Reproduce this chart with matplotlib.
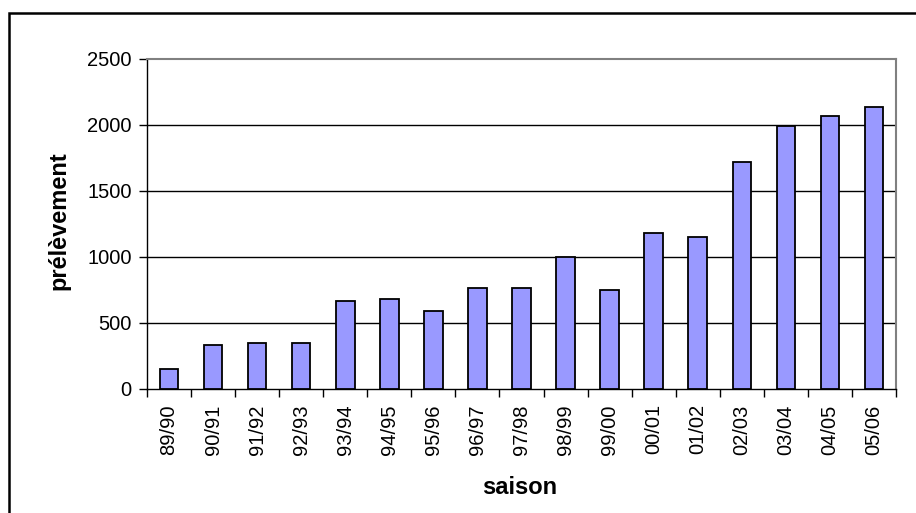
import matplotlib
matplotlib.use("Agg")
import matplotlib.pyplot as plt
from matplotlib.patches import Rectangle

seasons = ["89/90", "90/91", "91/92", "92/93", "93/94", "94/95", "95/96", "96/97",
           "97/98", "98/99", "99/00", "00/01", "01/02", "02/03", "03/04", "04/05", "05/06"]
values = [155, 330, 345, 345, 665, 680, 590, 765, 765, 1000, 750, 1185, 1155, 1720, 1995, 2065, 2135]
yticks = [0, 500, 1000, 1500, 2000, 2500]

plt.rcParams['font.family'] = ['Liberation Sans', 'DejaVu Sans']

W, H = 916, 513
fig = plt.figure(figsize=(W / 100, H / 100), dpi=100)

# outer chart border (left and top visible; right/bottom cropped)
fig.patches.append(Rectangle((9 / W, -0.1), 1.2, (H - 13) / H + 0.1, transform=fig.transFigure,
                             fill=False, edgecolor='black', linewidth=1.8))

left, right, top, bottom = 147, 896, 59, 389
ax = fig.add_axes([left / W, 1 - bottom / H, (right - left) / W, (bottom - top) / H])

x = list(range(len(seasons)))
ax.bar(x, values, width=0.42, color='#9999FF', edgecolor='black', linewidth=1.3, zorder=3)

ax.set_xlim(-0.5, len(seasons) - 0.5)
ax.set_ylim(0, 2500)
ax.set_yticks(yticks)
ax.set_yticklabels([str(v) for v in yticks], fontsize=14.5)
ax.set_xticks(x)
ax.set_xticklabels(seasons, rotation=90, fontsize=14.5)
ax.tick_params(axis='x', length=0, pad=11)
ax.set_xticks([i - 0.5 for i in range(len(seasons) + 1)], minor=True)
ax.tick_params(axis='x', which='minor', length=6, width=1, direction='out', color='black')
ax.tick_params(axis='y', length=6, width=1, direction='out', color='black', pad=5)

for v in yticks[1:-1]:
    ax.axhline(v, color='black', linewidth=1.0, zorder=1)

ax.spines['left'].set_color('black')
ax.spines['bottom'].set_color('black')
ax.spines['left'].set_linewidth(1.0)
ax.spines['bottom'].set_linewidth(1.0)
ax.spines['top'].set_color('#808080')
ax.spines['right'].set_color('#808080')
ax.spines['top'].set_linewidth(1.5)
ax.spines['right'].set_linewidth(1.5)

fig.text(59 / W, 1 - 221 / H, "prélèvement", rotation=90, fontsize=17, fontweight='bold',
         ha='center', va='center')
fig.text(520 / W, 1 - 494 / H, "saison", fontsize=17, fontweight='bold', ha='center', va='baseline')

fig.savefig("out.png", dpi=100)
